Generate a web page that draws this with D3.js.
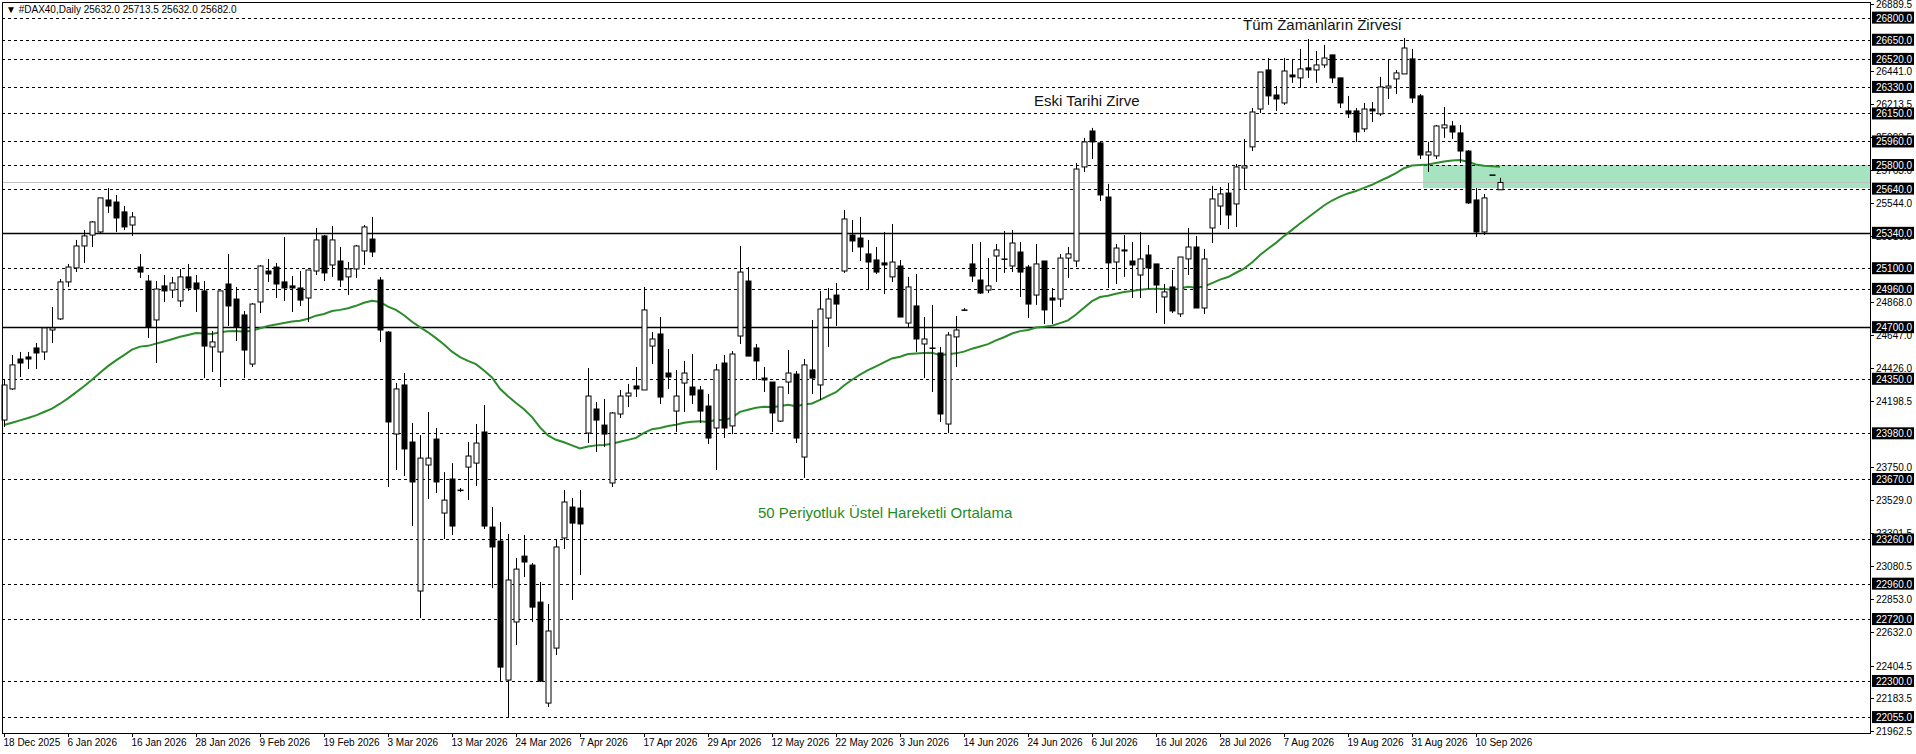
<!DOCTYPE html>
<html><head><meta charset="utf-8">
<script src="https://cdn.jsdelivr.net/npm/d3@7"></script>
<style>body{margin:0;background:#fff}svg{display:block}</style>
</head><body>
<script>
const openV=[24070,24281,24484,24498,24559,24532,24681,24756,25007,25102,25251,25325,25346,25563,25549,25482,25393,25108,25013,24749,24980,24952,24878,25041,25000,24946,24566,24532,24993,24891,24783,24450,24871,25081,25108,25007,24980,24966,24898,25081,25319,25122,25149,25041,25095,25217,25298,25020,24667,23975,24308,23921,22910,23765,23941,23439,23670,23595,23751,23778,23989,23344,23249,22306,22700,23147,23086,22835,22150,22523,23270,23480,23473,23982,24145,24036,23643,24111,24233,24301,24274,24572,24654,24389,24131,24321,24294,24274,24165,24016,24457,24030,24640,25013,24559,24355,24328,24063,24328,24382,23819,24410,24308,24762,24918,25081,25325,25305,25197,25156,25136,25041,25115,24728,24844,24586,24559,24525,24043,24634,24817,25129,25020,24952,25183,25163,25115,25210,25108,24918,25149,24898,24891,25169,25149,25787,26031,25950,25583,25142,25217,25149,25054,25190,25129,24905,24973,24790,25163,25244,24830,25373,25522,25610,25536,25780,25923,26180,26445,26275,26221,26411,26391,26459,26445,26479,26547,26391,26167,26167,26045,26180,26147,26323,26384,26418,26520,26269,25868,25862,26052,26065,26018,25895,25563,25346,25733,25632];
const highV=[24342,24511,24532,24532,24593,24695,24837,25027,25129,25292,25359,25420,25577,25644,25597,25522,25482,25197,25054,25013,25054,25041,25095,25129,25054,25013,24674,24946,25197,24973,24810,24864,25122,25163,25136,25312,25047,25081,25088,25373,25325,25387,25244,25142,25258,25393,25448,25041,24674,24321,24389,24050,23968,24125,24016,23717,23778,23609,23921,24043,24172,23480,23378,23297,23134,23290,23100,22971,22822,23256,23595,23541,23595,24423,24192,24213,24125,24274,24315,24430,24973,24667,24769,24552,24410,24471,24518,24301,24247,24450,24511,24538,25251,25108,24586,24430,24328,24294,24545,24403,24484,24749,24946,24966,25000,25495,25427,25448,25292,25244,25346,25400,25156,25041,25061,24769,24851,24566,24667,24776,24830,25264,25278,25169,25264,25353,25359,25278,25122,25264,25149,24966,25197,25244,25814,25984,26052,25957,25672,25264,25325,25278,25346,25258,25129,24993,25088,25176,25373,25319,25231,25658,25651,25678,25807,25977,26187,26431,26526,26336,26526,26520,26588,26655,26574,26615,26547,26391,26269,26187,26221,26228,26398,26520,26445,26662,26588,26282,25957,26072,26194,26099,26072,25902,25644,25604,25733,25713.5];
const lowV=[24023,24274,24362,24416,24416,24477,24593,24749,24973,25074,25136,25244,25339,25475,25346,25359,25319,25034,24627,24457,24871,24898,24837,24946,24803,24355,24396,24294,24708,24606,24355,24430,24796,25007,24898,24878,24803,24844,24735,25054,25013,25041,24973,24918,25034,25122,25176,24600,23616,23731,23690,23351,22727,23534,23575,23263,23290,23582,23527,23622,23331,22930,22293,22055,22544,23005,22700,22293,22123,22476,23195,22849,23019,23914,23853,23887,23616,24084,24158,24226,24274,24450,24179,24281,23989,24125,24179,24050,23907,23731,23948,23975,24586,24504,24342,24260,23989,24057,24247,23914,23677,24247,24206,24566,24708,25068,25210,25149,24952,25061,24925,25007,24769,24695,24532,24355,24260,24057,23982,24430,24817,25007,24925,24932,25007,25068,25074,24905,24762,24851,24722,24722,24837,25034,25108,25753,25841,25556,24966,24993,25041,24898,24898,24959,24796,24722,24796,24769,25054,24830,24790,25271,25393,25366,25380,25631,25895,26153,26208,26167,26208,26357,26323,26391,26357,26459,26357,26187,26119,25957,26024,26092,26133,26248,26282,26418,26221,25841,25753,25841,25984,25977,25814,25536,25312,25325,25733,25632];
const closeV=[24308,24444,24457,24484,24525,24695,24695,25007,25108,25251,25319,25414,25577,25522,25441,25380,25448,25074,24701,24959,24946,25000,25041,24966,24959,24572,24600,24946,24844,24701,24545,24857,25115,25061,24993,24966,24966,24884,25088,25292,25068,25292,25020,25095,25251,25380,25210,24681,24057,24281,23874,23650,23812,23812,23650,23527,23351,23595,23826,23914,23351,23209,22394,22985,23059,23107,22801,22299,22639,23209,23514,23371,23365,24233,24070,23975,24118,24233,24253,24281,24817,24620,24226,24362,24233,24389,24240,24131,23948,24410,24016,24518,25074,24504,24471,24342,24118,24294,24389,23948,24444,24355,24823,24891,24857,25434,25285,25244,25142,25074,25122,25142,24769,24973,24620,24620,24559,24111,24647,24681,24817,25047,24932,24980,25224,25163,25271,25074,24857,25129,24817,24884,25169,25197,25773,25957,25957,25597,25136,25237,25224,25122,25163,25102,24986,24939,24810,25176,25244,24830,25163,25570,25604,25461,25787,25794,26160,26431,26269,26248,26438,26398,26452,26445,26479,26526,26391,26221,26147,26024,26180,26167,26330,26336,26425,26594,26255,25868,25889,26065,26072,26024,25895,25543,25346,25577,25733,25682];
const emaSeed=24036;
const dashedLevels=[26800,26650,26520,26330,26150,25960,25800,25640,25100,24960,24350,23980,23670,23260,22960,22720,22300,22055];
const solidLevels=[25340,24700];
const plainTicks=[26889.5,26441.0,26213.5,25993.5,25763.0,25544.0,25316.5,24868.0,24647.0,24426.0,24198.5,23750.0,23529.0,23301.5,23080.5,22853.0,22632.0,22404.5,22183.5,21962.5];
const currentPrice=25683;
const zone=[25800,25644];
const zoneStart=178;
const dateLabels=["18 Dec 2025","6 Jan 2026","16 Jan 2026","28 Jan 2026","9 Feb 2026","19 Feb 2026","3 Mar 2026","13 Mar 2026","24 Mar 2026","7 Apr 2026","17 Apr 2026","29 Apr 2026","12 May 2026","22 May 2026","3 Jun 2026","14 Jun 2026","24 Jun 2026","6 Jul 2026","16 Jul 2026","28 Jul 2026","7 Aug 2026","19 Aug 2026","31 Aug 2026","10 Sep 2026"];
const dateStep=8;
const title="▼ #DAX40,Daily  25632.0 25713.5 25632.0 25682.0";

const W=1916,H=754,L=2,R=1870,T=2,B=733;
const svg=d3.select("body").append("svg").attr("width",W).attr("height",H);
const x=d3.scaleLinear().domain([0,1]).range([4,12]);
const y=d3.scaleLinear().domain([21947,26906]).range([B,T]);
const font="'Liberation Sans',Arial,sans-serif";

// zone
svg.append("rect").attr("x",x(zoneStart)-5).attr("width",R-x(zoneStart)+5)
 .attr("y",y(zone[0])).attr("height",y(zone[1])-y(zone[0])).attr("fill","#a6e3c1");
// levels
svg.selectAll(".dl").data(dashedLevels).enter().append("line")
 .attr("x1",L).attr("x2",R).attr("y1",d=>Math.round(y(d))+0.5).attr("y2",d=>Math.round(y(d))+0.5)
 .attr("stroke","#000").attr("stroke-dasharray","3,3");
svg.selectAll(".sl").data(solidLevels).enter().append("line")
 .attr("x1",L).attr("x2",R).attr("y1",d=>Math.round(y(d))+0.5).attr("y2",d=>Math.round(y(d))+0.5)
 .attr("stroke","#000").attr("stroke-width",1.3);
svg.append("line").attr("x1",L).attr("x2",R).attr("y1",Math.round(y(currentPrice))+0.5).attr("y2",Math.round(y(currentPrice))+0.5).attr("stroke","#c0c0c0");

// EMA
const ema=[];let e=emaSeed;const k=2/51;
closeV.forEach((c,i)=>{e=i===0?emaSeed:e+k*(c-e);ema.push(e);});
svg.append("path").datum(ema).attr("fill","none").attr("stroke","#2a8c2a").attr("stroke-width",2)
 .attr("d",d3.line().x((d,i)=>x(i)).y(d=>y(d)));

// candles
const idx=d3.range(openV.length);
const g=svg.append("g");
g.selectAll(".w").data(idx).enter().append("line")
 .attr("x1",i=>Math.round(x(i))+0.5).attr("x2",i=>Math.round(x(i))+0.5)
 .attr("y1",i=>y(highV[i])).attr("y2",i=>y(lowV[i])).attr("stroke","#000");
g.selectAll(".b").data(idx).enter().append("rect")
 .attr("x",i=>Math.round(x(i))-2).attr("width",5)
 .attr("y",i=>y(Math.max(openV[i],closeV[i])))
 .attr("height",i=>Math.max(0.5,Math.abs(y(openV[i])-y(closeV[i]))))
 .attr("fill",i=>closeV[i]>=openV[i]?"#fff":"#000").attr("stroke","#000").attr("stroke-width",1);

// frame
svg.append("rect").attr("x",L+0.5).attr("y",T+0.5).attr("width",R-L).attr("height",B-T).attr("fill","none").attr("stroke","#000");

// right axis
const ax=svg.append("g").attr("font-family",font).attr("font-size",10);
plainTicks.forEach(t=>{
 ax.append("line").attr("x1",R).attr("x2",R+4).attr("y1",Math.round(y(t))+0.5).attr("y2",Math.round(y(t))+0.5).attr("stroke","#000");
 ax.append("text").attr("x",R+6).attr("y",y(t)+4).text(t.toFixed(1));
});
dashedLevels.concat(solidLevels).forEach(t=>{
 ax.append("rect").attr("x",R+2).attr("y",y(t)-6).attr("width",42).attr("height",12).attr("fill","#000");
 ax.append("text").attr("x",R+6).attr("y",y(t)+4).attr("fill","#fff").text(t.toFixed(1));
});
// bottom axis
const bx=svg.append("g").attr("font-family",font).attr("font-size",10);
dateLabels.forEach((d,j)=>{
 const xi=Math.round(x(j*dateStep))+0.5;
 bx.append("line").attr("x1",xi).attr("x2",xi).attr("y1",B).attr("y2",B+4).attr("stroke","#000");
 bx.append("text").attr("x",xi-1).attr("y",B+13).text(d);
});
// texts
svg.append("text").attr("x",6).attr("y",13).attr("font-family",font).attr("font-size",10).text(title);
const ann=svg.append("g").attr("font-family",font).attr("font-size",15);
ann.append("text").attr("x",1243).attr("y",30).attr("fill","#111").text("Tüm Zamanların Zirvesi");
ann.append("text").attr("x",1034).attr("y",106).attr("fill","#111").text("Eski Tarihi Zirve");
ann.append("text").attr("x",758).attr("y",518).attr("fill","#1e8c1e").text("50 Periyotluk Üstel Hareketli Ortalama");
</script>
</body></html>
